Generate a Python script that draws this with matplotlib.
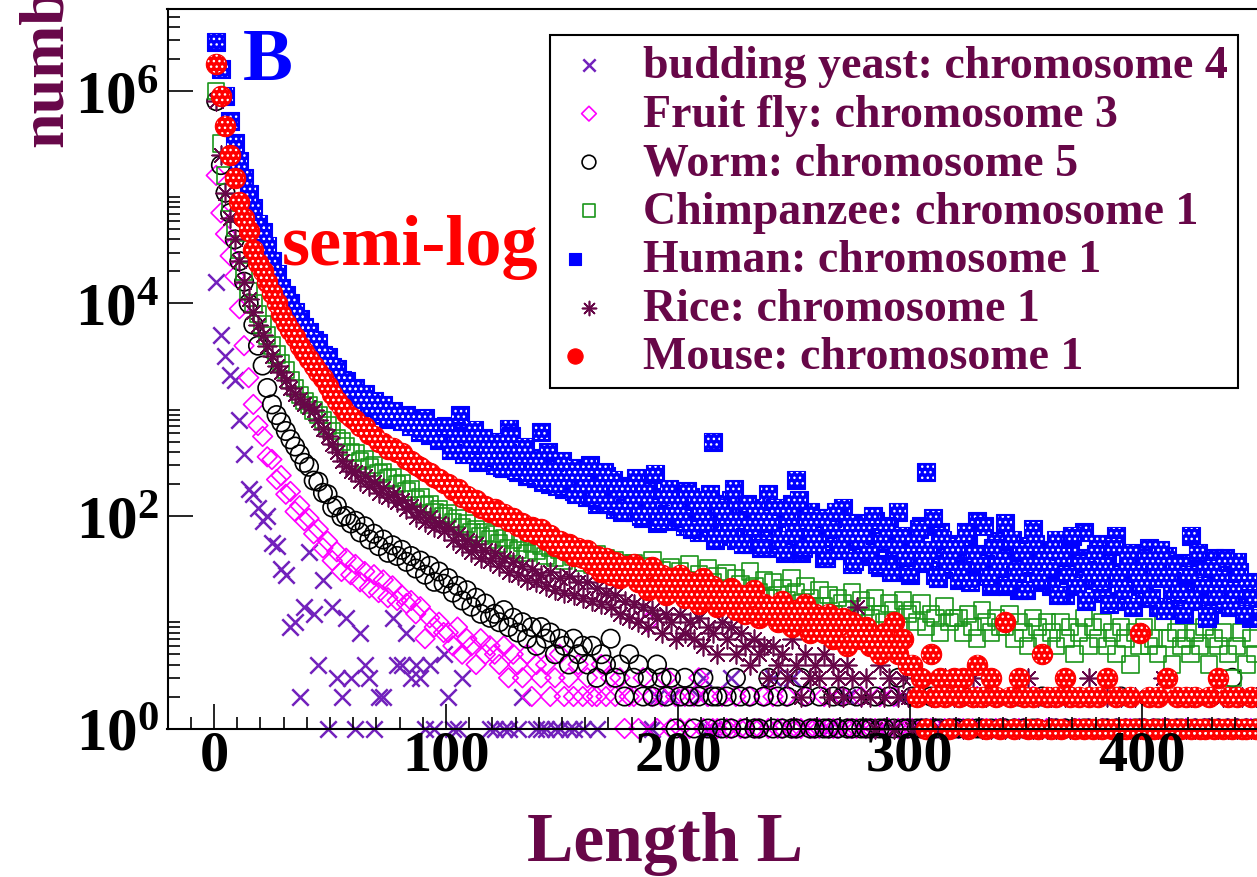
import numpy as np
import matplotlib
matplotlib.use('Agg')
import matplotlib.pyplot as plt
from matplotlib.ticker import FixedLocator, NullFormatter
from matplotlib.legend_handler import HandlerTuple

plt.rcParams['font.family'] = ['Liberation Serif', 'DejaVu Serif']
plt.rcParams['font.weight'] = 'bold'
plt.rcParams['axes.labelweight'] = 'bold'
plt.rcParams['mathtext.fontset'] = 'custom'
plt.rcParams['mathtext.rm'] = 'Liberation Serif:bold'
plt.rcParams['mathtext.bf'] = 'Liberation Serif:bold'
plt.rcParams['hatch.linewidth'] = 1.0

MAROON = '#670748'

# counts of each length L, read at odd lengths L = 1, 3, 5, ... (0 = no point)
yeast_n = [
    1.6e4, 5000, 3200, 2100, 1900, 800, 380, 180, 160, 120,
    90, 100, 56, 52, 32, 28, 9, 10, 2, 14,
    46, 12, 4, 25, 1, 14, 3, 2, 11, 3,
    1, 8, 4, 3, 1, 2, 2, 0, 11, 4,
    4, 8, 3, 4, 3, 1, 4, 1, 0, 5,
    2, 1, 1, 3, 0, 0, 0, 0, 0, 1,
    1, 0, 1, 1, 0, 1, 2, 0, 0, 1,
    1, 1, 0, 1, 1, 0, 1, 1, 0, 1,
    0, 0, 1, 0, 0, 0, 0, 0, 0, 0,
    0, 0, 0, 1, 1, 2, 0, 0, 2, 0,
    0, 0, 0, 0, 2, 3, 1, 1, 0, 0,
    0, 3, 0, 0, 0, 0, 0, 0, 0, 0,
    3, 0, 0, 0, 3, 0, 0, 0, 0, 0,
    0, 0, 1, 0, 0, 0, 2, 0, 0, 0,
    0, 0, 0, 1, 0, 0, 0, 0, 2, 0,
    0, 1, 0, 0, 0, 0, 0, 0, 0, 0,
    0, 0, 0, 0, 1, 0, 0, 0, 0, 0,
    0, 0, 2, 0, 0, 0, 0, 0, 1, 0,
    0, 0, 0, 0, 0, 0, 1, 0, 0, 0,
    1, 0, 0, 0, 0, 0, 0, 0, 0, 0,
    0, 0, 0, 0, 1, 0, 0, 0, 0, 0,
    0, 0, 0, 0, 0, 0, 0, 1, 0, 0,
]

fly_n = [
    1.6e5, 7.1e4, 4.5e4, 2.8e4, 1.8e4, 8900, 4000, 2000, 1120, 710,
    560, 360, 340, 220, 240, 160, 170, 110, 125, 90,
    95, 68, 75, 50, 58, 38, 46, 30, 40, 28,
    35, 24, 30, 21, 28, 19, 25, 17, 22, 16,
    18, 15, 16, 12, 14, 7, 11, 9, 10, 8,
    8, 6, 9, 5, 7, 6, 4, 7, 5, 6,
    5, 4, 6, 3, 5, 4, 3, 5, 2, 4,
    3, 4, 2, 3, 5, 2, 3, 2, 4, 2,
    3, 2, 2, 4, 2, 3, 2, 3, 1, 2,
    2, 1, 3, 10, 2, 1, 2, 3, 1, 2,
    1, 2, 1, 2, 3, 1, 2, 1, 1, 2,
    1, 1, 2, 1, 1, 2, 1, 1, 2, 1,
    2, 1, 1, 2, 1, 1, 1, 2, 1, 1,
    1, 2, 1, 1, 1, 2, 1, 1, 1, 2,
    1, 1, 1, 2, 1, 1, 2, 1, 1, 1,
    1, 2, 1, 1, 1, 1, 2, 1, 1, 1,
    1, 1, 0, 1, 2, 1, 1, 0, 1, 1,
    1, 0, 1, 1, 1, 0, 2, 1, 0, 1,
    1, 1, 0, 1, 0, 1, 1, 0, 1, 0,
    0, 1, 1, 0, 1, 0, 1, 1, 0, 1,
    1, 0, 1, 0, 1, 1, 0, 1, 0, 1,
    0, 1, 0, 1, 1, 0, 1, 0, 1, 0,
    1, 0, 1, 1, 0,
]

worm_n = [
    8e5, 2.0e5, 1.1e5, 7.1e4, 4.0e4, 2.5e4, 1.6e4, 1.0e4, 6300, 4000,
    2600, 1600, 1120, 890, 760, 630, 525, 450, 380, 316,
    290, 215, 210, 165, 160, 120, 125, 98, 100, 85,
    90, 70, 80, 60, 68, 52, 60, 45, 53, 42,
    48, 37, 42, 32, 38, 28, 34, 24, 30, 23,
    26, 19, 22, 16, 20, 14, 17, 12, 15, 11,
    12, 10, 13, 9, 11, 8, 10, 7, 9, 6,
    9, 7, 8, 5, 7, 6, 4, 7, 5, 6,
    4, 6, 3, 5, 4, 7, 3, 4, 2, 5,
    3, 4, 2, 3, 2, 4, 3, 2, 3, 1,
    2, 3, 2, 1, 2, 3, 1, 2, 2, 1,
    2, 1, 3, 2, 1, 2, 1, 1, 2, 3,
    1, 2, 1, 2, 1, 1, 3, 2, 1, 1,
    2, 1, 1, 2, 1, 2, 1, 1, 2, 1,
    1, 1, 2, 1, 1, 2, 1, 3, 1, 1,
    2, 1, 1, 1, 2, 1, 1, 2, 1, 1,
    1, 2, 1, 0, 1, 1, 2, 1, 0, 1,
    1, 0, 1, 2, 1, 0, 1, 1, 2, 0,
    1, 1, 0, 1, 2, 1, 0, 1, 1, 0,
    0, 1, 1, 0, 1, 2, 1, 0, 1, 1,
    1, 0, 1, 1, 0, 1, 0, 1, 1, 0,
    0, 1, 0, 1, 1, 0, 1, 0, 1, 3,
    1, 0, 1, 0, 1,
]

chimp_n = [
    1.0e6, 3.2e5, 1.6e5, 8.9e4, 5.2e4, 3.2e4, 2.0e4, 1.3e4, 1.0e4, 7900,
    6300, 5000, 4000, 3300, 2750, 2350, 1900, 1600, 1380, 1200,
    1100, 980, 890, 800, 710, 630, 540, 500, 450, 400,
    390, 330, 345, 285, 300, 250, 260, 225, 230, 200,
    205, 170, 180, 145, 150, 125, 130, 108, 115, 100,
    105, 88, 95, 78, 85, 70, 75, 65, 70, 60,
    68, 55, 62, 50, 60, 48, 56, 45, 55, 47,
    52, 42, 50, 40, 48, 38, 46, 41, 44, 36,
    42, 35, 44, 33, 40, 30, 38, 32, 36, 28,
    36, 27, 34, 25, 38, 28, 31, 24, 33, 26,
    30, 22, 35, 25, 28, 20, 32, 24, 27, 21,
    29, 20, 26, 23, 18, 30, 22, 19, 25, 17,
    24, 18, 21, 16, 26, 19, 15, 22, 17, 14,
    20, 14, 18, 12, 17, 15, 13, 19, 11, 16,
    14, 11, 17, 12, 10, 15, 13, 9, 16, 12,
    13, 10, 15, 9, 12, 11, 8, 14, 10, 11,
    11, 8, 12, 9, 7, 13, 10, 8, 11, 9,
    9, 12, 7, 10, 8, 6, 11, 9, 7, 10,
    8, 6, 10, 7, 9, 5, 8, 11, 6, 9,
    7, 10, 6, 8, 5, 9, 7, 4, 8, 6,
    9, 6, 7, 5, 10, 7, 4, 8, 6, 7,
    5, 8, 6, 9, 4, 7, 6, 8, 5, 3,
    6, 8, 4, 7, 5,
]

human_n = [
    2.9e6, 1.6e6, 9.0e5, 5.2e5, 3.2e5, 2.2e5, 1.5e5, 1.07e5, 7.9e4, 5.6e4,
    4.7e4, 3.5e4, 2.5e4, 1.9e4, 1.4e4, 1.2e4, 1.0e4, 8300, 7100, 6000,
    5400, 4500, 4200, 3300, 3100, 2500, 2400, 1900, 1850, 1500,
    1600, 1250, 1400, 1050, 1200, 900, 1100, 820, 980, 850,
    780, 900, 700, 760, 620, 830, 580, 680, 520, 600,
    560, 450, 620, 420, 500, 380, 470, 350, 410, 330,
    300, 380, 280, 660, 330, 260, 300, 240, 350, 230,
    620, 250, 200, 280, 210, 180, 260, 170, 220, 190,
    150, 200, 130, 170, 240, 140, 115, 190, 125, 160,
    110, 150, 95, 200, 120, 85, 140, 100, 170, 90,
    120, 80, 150, 95, 70, 110, 75, 500, 130, 65,
    90, 140, 60, 105, 75, 55, 120, 85, 65, 160,
    70, 50, 95, 60, 130, 220, 45, 80, 110, 55,
    75, 40, 95, 62, 48, 120, 58, 35, 85, 52,
    65, 42, 90, 33, 56, 75, 38, 110, 47, 30,
    60, 36, 80, 260, 44, 28, 70, 40, 55, 32,
    25, 48, 65, 34, 90, 30, 42, 22, 58, 37,
    85, 28, 40, 20, 52, 33, 75, 24, 45, 30,
    22, 60, 35, 18, 48, 27, 40, 70, 25, 32,
    55, 19, 38, 28, 65, 16, 30, 45, 22, 35,
    18, 50, 26, 14, 33, 42, 20, 28, 15, 36,
    65, 24, 17, 30, 12, 40, 21, 15, 26, 33,
    37, 14, 20, 11, 18,
]

# human counts at even lengths L = 100, 102, ... (the cloud is read twice as dense)
human_even_n = [
    700, 420, 560, 900, 380, 480, 650, 320, 540, 400,
    360, 500, 290, 420, 560, 270, 380, 450, 240, 330,
    300, 210, 400, 260, 190, 330, 220, 280, 160, 250,
    200, 300, 150, 180, 260, 130, 220, 170, 110, 190,
    140, 230, 100, 160, 120, 250, 90, 150, 180, 105,
    130, 95, 170, 75, 140, 110, 85, 160, 60, 120,
    100, 70, 180, 90, 55, 130, 80, 110, 50, 95,
    85, 120, 60, 45, 100, 70, 140, 50, 90, 65,
    55, 95, 40, 75, 110, 48, 65, 85, 38, 60,
    70, 45, 100, 35, 58, 80, 30, 50, 65, 42,
    28, 55, 75, 38, 48, 95, 26, 60, 35, 45,
    52, 30, 70, 24, 44, 36, 80, 27, 50, 33,
    40, 22, 60, 30, 46, 20, 35, 55, 25, 38,
    32, 48, 18, 42, 28, 65, 22, 36, 16, 30,
    44, 24, 33, 15, 52, 26, 20, 38, 14, 29,
    23, 40, 17, 30, 48, 13, 26, 35, 19, 12,
    28, 16, 45, 22, 11, 32, 18, 25, 40, 14,
    20, 30, 12, 24, 17,
]

rice_n = [
    8e5, 2.5e5, 1.1e5, 6.3e4, 4.0e4, 2.5e4, 1.6e4, 1.1e4, 8300, 6300,
    5000, 4000, 3200, 2600, 2240, 1900, 1600, 1400, 1260, 1120,
    1070, 1000, 800, 660, 560, 480, 400, 330, 295, 263,
    260, 215, 240, 190, 210, 165, 185, 150, 160, 135,
    140, 115, 125, 98, 110, 88, 98, 78, 86, 72,
    78, 60, 68, 52, 60, 46, 55, 40, 48, 38,
    45, 34, 40, 30, 37, 28, 34, 25, 32, 24,
    28, 22, 30, 20, 26, 19, 27, 18, 24, 17,
    24, 16, 21, 15, 19, 14, 18, 12, 16, 11,
    15, 10, 14, 9, 13, 11, 8, 12, 10, 7,
    12, 8, 10, 7, 11, 6, 9, 8, 5, 10,
    7, 9, 5, 8, 6, 4, 7, 5, 6, 3,
    6, 4, 5, 3, 7, 4, 2, 5, 3, 4,
    3, 5, 2, 4, 3, 2, 4, 3, 14, 2,
    3, 2, 1, 4, 2, 3, 1, 2, 3, 2,
    1, 2, 3, 1, 2, 2, 1, 3, 1, 2,
    2, 1, 1, 3, 2, 1, 2, 1, 2, 1,
    1, 2, 1, 1, 2, 3, 1, 2, 1, 1,
    2, 1, 1, 2, 1, 1, 2, 1, 3, 1,
    1, 1, 2, 1, 1, 2, 1, 1, 2, 1,
    1, 2, 1, 1, 3, 1, 1, 2, 1, 1,
    2, 1, 1, 1, 2, 1, 1, 2, 1, 1,
    1, 2, 1, 1, 2,
]

mouse_n = [
    1.8e6, 8.9e5, 4.7e5, 2.5e5, 1.5e5, 8.9e4, 6.3e4, 4.8e4, 3.2e4, 2.4e4,
    2.0e4, 1.6e4, 1.26e4, 1.0e4, 7900, 6600, 5600, 4800, 4000, 3500,
    3000, 2600, 2240, 2000, 1660, 1410, 1200, 1050, 930, 850,
    800, 700, 680, 590, 570, 500, 490, 430, 440, 400,
    390, 345, 330, 300, 290, 265, 255, 235, 225, 205,
    200, 175, 180, 150, 155, 135, 140, 120, 125, 110,
    115, 100, 105, 90, 95, 80, 86, 72, 78, 68,
    75, 60, 66, 52, 58, 48, 54, 42, 50, 40,
    48, 35, 42, 30, 40, 28, 37, 26, 34, 29,
    35, 24, 30, 20, 33, 22, 28, 18, 26, 21,
    28, 17, 24, 20, 15, 26, 18, 22, 14, 19,
    16, 21, 13, 18, 12, 17, 20, 11, 15, 13,
    14, 10, 16, 12, 9, 13, 11, 15, 8, 12,
    10, 8, 12, 7, 9, 11, 6, 10, 8, 7,
    9, 6, 7, 5, 8, 6, 10, 5, 7, 4,
    4, 2, 3, 1, 5, 2, 3, 2, 1, 3,
    2, 3, 1, 2, 4, 2, 1, 3, 2, 1,
    10, 2, 1, 3, 2, 1, 2, 1, 5, 2,
    1, 2, 1, 3, 2, 1, 2, 1, 2, 1,
    2, 1, 3, 1, 2, 1, 1, 2, 1, 8,
    1, 2, 1, 2, 1, 3, 1, 2, 1, 2,
    1, 2, 1, 1, 2, 1, 3, 1, 2, 1,
    2, 1, 1, 2, 1,
]

labels = [
    'budding yeast: chromosome 4',
    'Fruit fly: chromosome 3',
    'Worm: chromosome 5',
    'Chimpanzee: chromosome 1',
    'Human: chromosome 1',
    'Rice: chromosome 1',
    'Mouse: chromosome 1',
]

# figure: 1257 x 878 px, axes box measured in pixels
W, H = 1257, 878
fig = plt.figure(figsize=(W / 100, H / 100), dpi=100)
ax = fig.add_axes([167.5 / W, 1 - 729.5 / H, 1090.4 / W, 719.5 / H])


def draw(counts, first=1, **kw):
    n = np.asarray(counts, dtype=float)
    L = first + 2 * np.arange(len(n))
    keep = n > 0
    return ax.scatter(L[keep], n[keep], clip_on=False, **kw)


BLUE_SQ = dict(marker='s', facecolors='#0000ff', edgecolors='#0000ff', s=150, linewidths=0.8)
BLUE_DOTS = dict(marker='s', facecolors='none', edgecolors='white', s=115, linewidths=0, hatch='...')

h_yeast = draw(yeast_n, marker='x', c='#7221bc', s=140, linewidths=1.8)
h_fly = draw(fly_n, marker='D', facecolors='none', edgecolors='#ff00ff', s=100, linewidths=1.2)
h_worm = draw(worm_n, marker='o', facecolors='none', edgecolors='black', s=175, linewidths=1.2)
h_chimp = draw(chimp_n, marker='s', facecolors='none', edgecolors='#1a961a', s=140, linewidths=1.2)
h_human = draw(human_n, **BLUE_SQ)
h_human_p = draw(human_n, **BLUE_DOTS)
draw(human_even_n, first=100, **BLUE_SQ)
draw(human_even_n, first=100, **BLUE_DOTS)
h_rice = draw(rice_n, marker=(8, 2, 0), c=MAROON, s=180, linewidths=1.2)
h_mouse = draw(mouse_n, marker='o', facecolors='#ff0000', edgecolors='#ff0000', s=215, linewidths=0.8)
h_mouse_p = draw(mouse_n, marker='o', facecolors='none', edgecolors='white', s=170, linewidths=0, hatch='...')

ax.set_yscale('log')
ax.set_xlim(-20, 450)
ax.set_ylim(1, 10 ** 6.77)

ax.set_xticks([0, 100, 200, 300, 400])
ax.set_xticklabels(['0', '100', '200', '300', '400'])
ax.xaxis.set_minor_locator(FixedLocator(np.arange(-10, 450, 10)))

ymajor = [1, 1e2, 1e4, 1e6]
ax.yaxis.set_major_locator(FixedLocator(ymajor))
ax.yaxis.set_minor_locator(FixedLocator([m * 10.0 ** k for k in (0, 2, 4, 6) for m in range(2, 11)]))
ax.yaxis.set_minor_formatter(NullFormatter())
ax.set_yticklabels([r'$\mathbf{10^{0}}$', r'$\mathbf{10^{2}}$', r'$\mathbf{10^{4}}$', r'$\mathbf{10^{6}}$'])

ax.tick_params(which='both', direction='in', top=False, right=False, width=1.2, color='black')
ax.tick_params(which='major', length=18)
ax.tick_params(which='minor', length=8.6)
ax.tick_params(axis='x', which='major', labelsize=42, pad=1)
ax.tick_params(axis='y', which='major', labelsize=44, pad=6)
for side in ('left', 'bottom', 'top'):
    ax.spines[side].set_linewidth(1.5)
ax.spines['right'].set_visible(False)

ax.set_xlabel('Length L', fontsize=50, color=MAROON, fontweight='bold')
ax.xaxis.label.set_va('baseline')
ax.xaxis.set_label_coords((665 - 167.5) / 1090.4, -(861 - 729.5) / 719.5)

# y label is cut by the top edge in the original
fig.text(76 / W, 1 - 147 / H, 'number', rotation=90, ha='right', va='bottom',
         fontsize=46, color=MAROON)

fig.text(243 / W, 1 - 80 / H, 'B', color='#0000ff', fontsize=54, ha='left', va='baseline')
fig.text(282 / W, 1 - 265 / H, 'semi-log', color='#ff0000', fontsize=52, ha='left', va='baseline')

handles = [h_yeast, h_fly, h_worm, h_chimp, (h_human, h_human_p), h_rice, (h_mouse, h_mouse_p)]
leg = ax.legend(handles, labels, loc='upper right',
                bbox_to_anchor=(1238 / W, 1 - 36 / H), bbox_transform=fig.transFigure,
                fontsize=33, frameon=True, fancybox=False, framealpha=1,
                edgecolor='black', borderpad=0.22, labelspacing=0.14,
                handlelength=1.24, handletextpad=0.56, markerscale=0.75,
                borderaxespad=0, handler_map={tuple: HandlerTuple(ndivide=None, pad=0)})
leg.get_frame().set_linewidth(1.5)
for t in leg.get_texts():
    t.set_color(MAROON)

fig.savefig('out.png', dpi=100)
